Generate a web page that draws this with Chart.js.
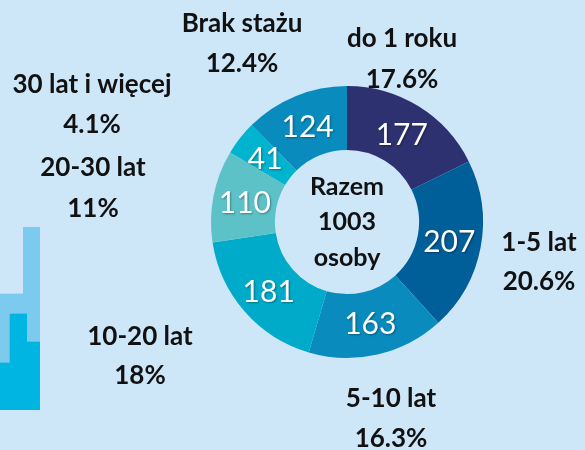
<!DOCTYPE html>
<html lang="pl">
<head>
<meta charset="utf-8">
<title>Staż pracy</title>
<script src="https://cdn.jsdelivr.net/npm/chart.js@4"></script>
<style>
  html, body { margin: 0; padding: 0; background: #cde6f8; }
  #wrap { position: relative; width: 585px; height: 450px; overflow: hidden; }
  #ring { position: absolute; left: 0; top: 0; }
  #steps { position: absolute; left: 0; top: 227px; }
</style>
</head>
<body>
<div id="wrap">
  <canvas id="steps" width="40" height="183"></canvas>
  <canvas id="ring" width="585" height="450"></canvas>
</div>
<script>
// Staż pracy – liczba osób w każdej grupie
const categories = ['do 1 roku', '1-5 lat', '5-10 lat', '10-20 lat', '20-30 lat', '30 lat i więcej', 'Brak stażu'];
const counts = [177, 207, 163, 181, 110, 41, 124];
const centerLines = ['Razem', '1003', 'osoby'];

// small stepped bars in the left margin
const stepCols = ['1', '2', '3', '4', '5', '6', '7', '8', '9', '10', '11', '12'];
const stepBack = [116, 116, 116, 116, 116, 116, 116, 183, 183, 183, 183, 183];
const stepFront = [47, 47, 47, 96, 96, 96, 96, 96, 68, 68, 68, 68];

const colors = ['#2e3170', '#005e99', '#0a8bbd', '#00abc9', '#5dc2c8', '#00b3cf', '#0a8bbd'];

// where the category captions go (x centre, baseline of name, baseline of percent)
const captionPos = [
  { x: 402, y1: 47, y2: 88 },
  { x: 539, y1: 251, y2: 290 },
  { x: 391, y1: 407, y2: 447 },
  { x: 140, y1: 345, y2: 384 },
  { x: 93, y1: 176, y2: 217 },
  { x: 92, y1: 93, y2: 133 },
  { x: 242, y1: 32, y2: 72 }
];

const total = counts.reduce((a, b) => a + b, 0);
const pct = v => {
  let s = (v / total * 100).toFixed(1);
  if (s.endsWith('.0')) s = s.slice(0, -2);
  return s + '%';
};

const ringText = {
  id: 'ringText',
  afterDatasetsDraw(chart) {
    const ctx = chart.ctx;
    const meta = chart.getDatasetMeta(0);
    ctx.save();

    // counts inside the segments
    ctx.font = '30px Lato';
    ctx.textAlign = 'center';
    ctx.textBaseline = 'alphabetic';
    ctx.fillStyle = '#ffffff';
    ctx.shadowColor = 'rgba(0,0,0,0.35)';
    ctx.shadowBlur = 2;
    ctx.shadowOffsetX = 1;
    ctx.shadowOffsetY = 1;
    meta.data.forEach((arc, i) => {
      const p = arc.tooltipPosition();
      ctx.fillText(String(counts[i]), p.x, p.y + 11);
    });
    ctx.shadowColor = 'transparent';

    // total in the hole
    const c = meta.data[0];
    ctx.fillStyle = '#111111';
    ctx.font = 'bold 25px Lato';
    const base = [-27, 8, 44];
    centerLines.forEach((t, i) => ctx.fillText(t, c.x, c.y + base[i]));

    // captions around the ring
    ctx.font = 'bold 26px Lato';
    categories.forEach((name, i) => {
      const pos = captionPos[i];
      ctx.fillText(name, pos.x, pos.y1);
      ctx.fillText(pct(counts[i]), pos.x, pos.y2);
    });
    ctx.restore();
  }
};

new Chart(document.getElementById('ring'), {
  type: 'doughnut',
  data: {
    labels: categories,
    datasets: [{
      data: counts,
      backgroundColor: colors,
      borderWidth: 0
    }]
  },
  options: {
    responsive: false,
    animation: false,
    devicePixelRatio: 1,
    cutout: '53%',
    layout: { padding: { left: 211, top: 86, right: 102, bottom: 92 } },
    plugins: { legend: { display: false }, tooltip: { enabled: false } }
  },
  plugins: [ringText]
});

new Chart(document.getElementById('steps'), {
  type: 'bar',
  data: {
    labels: stepCols,
    datasets: [
      { data: stepFront, backgroundColor: '#00b5e2', borderWidth: 0 },
      { data: stepBack, backgroundColor: '#7ccbee', borderWidth: 0 }
    ]
  },
  options: {
    responsive: false,
    animation: false,
    devicePixelRatio: 1,
    datasets: { bar: { grouped: false, barPercentage: 1, categoryPercentage: 1 } },
    layout: { padding: 0 },
    scales: {
      x: { display: false },
      y: { display: false, min: 0, max: 183 }
    },
    plugins: { legend: { display: false }, tooltip: { enabled: false } }
  }
});
</script>
</body>
</html>
